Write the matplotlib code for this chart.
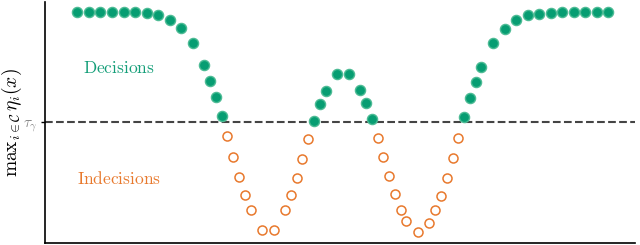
import matplotlib
matplotlib.use("Agg")
import matplotlib.pyplot as plt

plt.rcParams['mathtext.fontset'] = 'cm'
plt.rcParams['font.family'] = 'serif'
plt.rcParams['font.serif'] = ['DejaVu Serif']

threshold = 0.5

# points above the threshold (decisions)
dec_x = [0, 1, 2, 3, 4, 5, 6, 7, 8, 9, 10, 11, 11.5, 12, 12.5,
         20.5, 21, 21.5, 22.5, 23.5, 24.5, 25, 25.5,
         33.5, 34, 34.5, 35, 36, 37, 38, 39, 40, 41, 42, 43, 44, 45, 46]
dec_y = [0.957, 0.957, 0.957, 0.957, 0.957, 0.957, 0.953, 0.946, 0.925, 0.892,
         0.831, 0.737, 0.672, 0.604, 0.526,
         0.506, 0.576, 0.631, 0.700, 0.700, 0.633, 0.579, 0.513,
         0.522, 0.600, 0.670, 0.730, 0.830, 0.889, 0.925, 0.944, 0.951, 0.956,
         0.957, 0.957, 0.957, 0.957, 0.957]

# points below the threshold (indecisions)
ind_x = [13, 13.5, 14, 14.5, 15, 16, 17, 18, 18.5, 19, 19.5, 20,
         26, 26.5, 27, 27.5, 28, 28.5, 29.5, 30.5, 31, 31.5, 32, 32.5, 33]
ind_y = [0.443, 0.357, 0.274, 0.199, 0.137, 0.055, 0.055, 0.137, 0.199, 0.270,
         0.350, 0.431,
         0.436, 0.358, 0.277, 0.203, 0.139, 0.090, 0.045, 0.085, 0.135, 0.194,
         0.268, 0.351, 0.436]

green = '#079d72'
orange = '#e8792d'

fig = plt.figure(figsize=(6.4, 2.45), dpi=100)
ax = fig.add_axes([45 / 640, 2 / 245, 590 / 640, 241 / 245])

ax.axhline(threshold, color='#444444', linestyle='--', linewidth=1.5, zorder=1)
ax.plot(dec_x, dec_y, 'o', markersize=7.3, color=green,
        markeredgecolor='#4dbb95', markeredgewidth=1.0, zorder=3)
ax.plot(ind_x, ind_y, 'o', markersize=6.5, markerfacecolor='none',
        markeredgecolor=orange, markeredgewidth=1.1, zorder=3)

ax.text(0.5, 0.705, r'$\mathrm{Decisions}$', color='#139e78', fontsize=12.5)
ax.text(0.0, 0.245, r'$\mathrm{Indecisions}$', color=orange, fontsize=12.5)

ax.set_xlim(-2.8, 48.3)
ax.set_ylim(0, 1)
ax.set_xticks([])
ax.set_yticks([threshold])
ax.set_yticklabels([r'$\tau_\gamma$'], color='#888888', fontsize=11)
ax.tick_params(axis='y', length=3, width=1.0, pad=2)

# y label placed by hand so it sits flush with the left edge
fig.text(12 / 640, 0.5, r'$\mathrm{max}_{i\in\mathcal{C}}\,\eta_i(x)$',
         fontsize=14, rotation=90, ha='center', va='center')

ax.spines['top'].set_visible(False)
ax.spines['right'].set_visible(False)
ax.spines['left'].set_linewidth(1.2)
ax.spines['bottom'].set_linewidth(1.2)

fig.savefig('out.png', dpi=100)
